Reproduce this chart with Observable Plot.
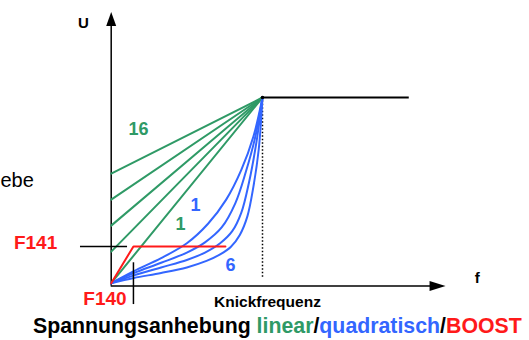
<!DOCTYPE html>
<html>
<head>
<meta charset="utf-8">
<script src="https://cdn.jsdelivr.net/npm/d3@7"></script>
<script src="https://cdn.jsdelivr.net/npm/@observablehq/plot@0.6"></script>
<style>
  body { margin: 0; background: #fff; font-family: "Liberation Sans", Arial, sans-serif; }
  #caption { height: 28px; line-height: 28px; font-size: 21.3px; font-weight: bold; padding-left: 33px; white-space: nowrap; }
</style>
</head>
<body>
<div id="chart"></div>
<div id="caption"><span style="color:#000">Spannungsanhebung </span><span style="color:#2f9a66">linear</span><span style="color:#000">/</span><span style="color:#3366ff">quadratisch</span><span style="color:#000">/</span><span style="color:#ff1a1a">BOOST</span></div>
<script>
// ---- data (f: frequency units, knee = 100; U: voltage units, knee = 100) ----
const kneeF = 100, kneeU = 100;
const plateauEndF = 197;
const greenIntercepts = [59, 45, 31, 17, 0];           // linear boost start values
const blueCurveF = [
  [0, 15, 33, 50, 64, 76, 86, 94, 100],
  [0, 15, 33, 50, 62, 73, 82, 89, 95, 100],
  [0, 15, 33, 50, 62, 72, 80, 86, 91, 96, 100],
  [0, 15, 33, 50, 63, 72, 79, 85, 90, 94, 97.5, 100]
];
const blueCurveU = [
  [0, 6.5, 13.5, 21.5, 32, 45, 61, 79, 100],
  [0, 5.5, 11, 16.5, 22, 30, 43, 60, 78, 100],
  [0, 4.2, 8.5, 12.5, 16.5, 21.5, 28, 38, 54, 76, 100],
  [0, 2.8, 5.5, 8.5, 12, 15.5, 19.5, 26, 36, 52, 72, 100]
];
const boostF = 14.7, boostU = 19.8, boostEndF = 75.5;   // F140 / F141 boost
const boostF_pts = [0, boostF, boostEndF];
const boostU_pts = [0, boostU, boostU];
const f141LineF = [-20.3, 10.8];
const boostTickU = [11, -11.5];
const dottedBottomU = 3.2;
const axisZeroU = -1.5, xAxisEndF = 215.7, yAxisEndU = 142.3;
const boldLabels = [
  {f:-18.3, U:139.8, text:"U", color:"#000", size:15},
  {f:242.0, U:2.5, text:"f", color:"#000", size:15},
  {f:18.0, U:83.1, text:"16", color:"#2f9a66", size:18},
  {f:45.8, U:32.0, text:"1", color:"#2f9a66", size:18},
  {f:55.7, U:41.8, text:"1", color:"#3366ff", size:18},
  {f:78.8, U:9.5, text:"6", color:"#3366ff", size:18},
  {f:-50.0, U:21.6, text:"F141", color:"#ff1a1a", size:19},
  {f:-4.1, U:-8.5, text:"F140", color:"#ff1a1a", size:19},
  {f:103.3, U:-9.9, text:"Knickfrequenz", color:"#000", size:15.5}
];
const plainLabels = [
  {f:-73.2, U:55.3, text:"ebe", color:"#000", size:20}
];

const green = "#2f9a66", blue = "#3366ff", red = "#ff1a1a";

const greenData = greenIntercepts.flatMap((b, i) => [{id: i, f: 0, U: b}, {id: i, f: kneeF, U: kneeU}]);
const blueData = blueCurveF.flatMap((fs, i) => fs.map((f, j) => ({id: i, f, U: blueCurveU[i][j]})));
const boostData = boostF_pts.map((f, i) => ({f, U: boostU_pts[i]}));

const upArrow = { draw(ctx) { ctx.moveTo(0, -7); ctx.lineTo(5, 7); ctx.lineTo(-5, 7); ctx.closePath(); } };
const rightArrow = { draw(ctx) { ctx.moveTo(8, 0); ctx.lineTo(-8, 5); ctx.lineTo(-8, -5); ctx.closePath(); } };

const W = 529, H = 312;
const sx = 1.513, sy = 1.857, ox = 110.7, oy = 282.7;

const chart = Plot.plot({
  width: W, height: H,
  margin: 0,
  x: {domain: [-ox / sx, (W - ox) / sx], axis: null},
  y: {domain: [(oy - H) / sy, oy / sy], axis: null},
  style: {fontFamily: "'Liberation Sans', Arial, sans-serif", background: "#fff"},
  marks: [
    Plot.ruleY([axisZeroU], {x1: 0, x2: xAxisEndF, stroke: "#000", strokeWidth: 1.5}),
    Plot.ruleX([0], {y1: axisZeroU, y2: yAxisEndU, stroke: "#000", strokeWidth: 1.5}),
    Plot.dot([{f: 0, U: yAxisEndU}], {x: "f", y: "U", symbol: upArrow, fill: "#000", stroke: null}),
    Plot.dot([{f: xAxisEndF, U: axisZeroU}], {x: "f", y: "U", symbol: rightArrow, fill: "#000", stroke: null}),
    Plot.ruleX([kneeF], {y1: dottedBottomU, y2: kneeU, stroke: "#000", strokeWidth: 1.5, strokeDasharray: "1.5,2"}),
    Plot.ruleY([kneeU], {x1: kneeF, x2: plateauEndF, stroke: "#000", strokeWidth: 2}),
    Plot.line(greenData, {x: "f", y: "U", z: "id", stroke: green, strokeWidth: 2}),
    Plot.line(blueData, {x: "f", y: "U", z: "id", stroke: blue, strokeWidth: 2, curve: "catmull-rom"}),
    Plot.ruleY([boostU], {x1: f141LineF[0], x2: f141LineF[1], stroke: "#000", strokeWidth: 1.5}),
    Plot.ruleX([boostF], {y1: boostTickU[0], y2: boostTickU[1], stroke: "#000", strokeWidth: 1.5}),
    Plot.line(boostData, {x: "f", y: "U", stroke: red, strokeWidth: 2}),
    Plot.dot([{f: kneeF, U: kneeU}], {x: "f", y: "U", r: 1.8, fill: "#000", stroke: null}),
    Plot.text(boldLabels, {x: "f", y: "U", text: "text", fill: d => d.color, fontSize: d => d.size,
      textAnchor: "middle", fontWeight: "bold", lineAnchor: "middle"}),
    Plot.text(plainLabels, {x: "f", y: "U", text: "text", fill: d => d.color, fontSize: d => d.size,
      textAnchor: "start", fontWeight: "normal", lineAnchor: "middle"})
  ]
});
document.getElementById("chart").appendChild(chart);
</script>
</body>
</html>
